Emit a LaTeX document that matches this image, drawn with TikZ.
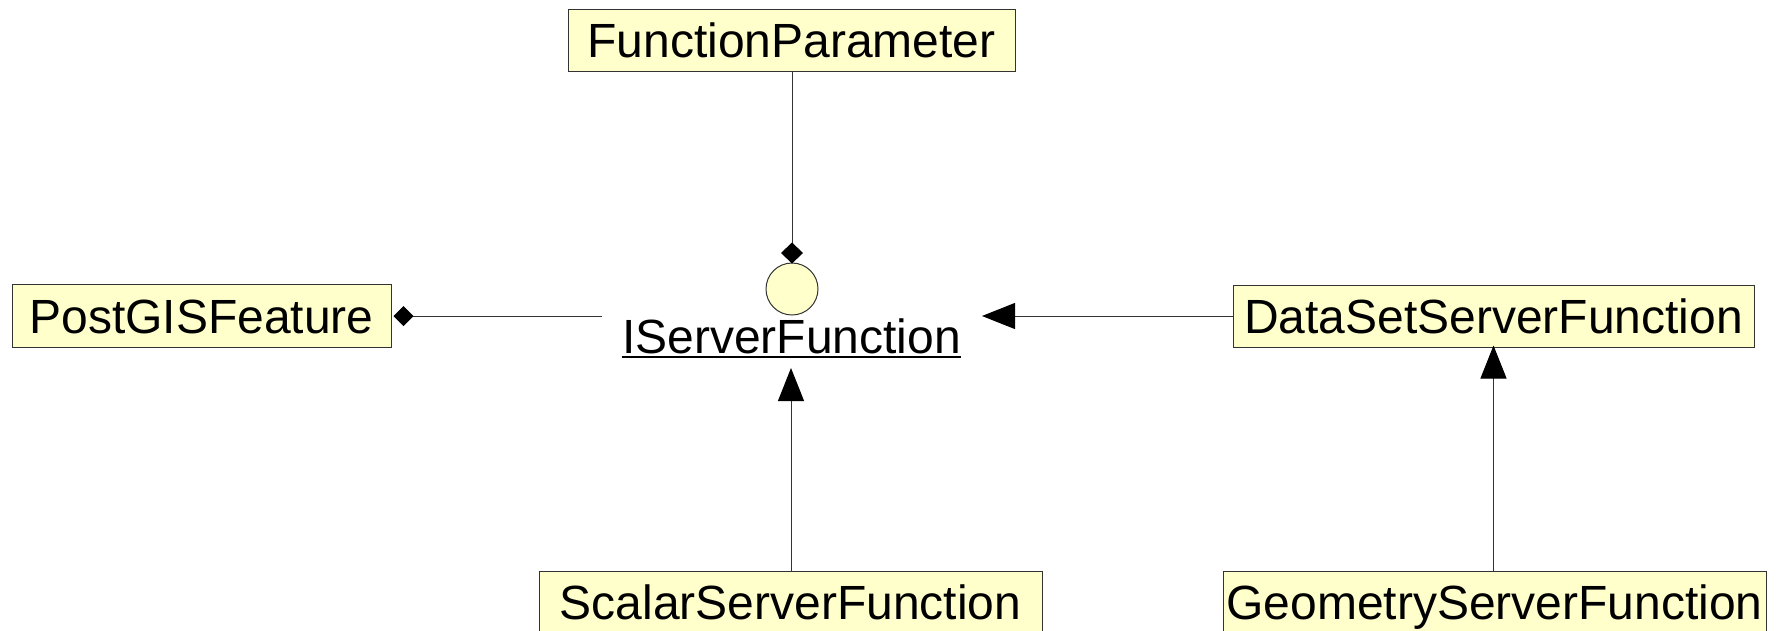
\documentclass[tikz,border=0pt]{standalone}
\usepackage{fontspec}
\setmainfont{Liberation Sans}
\usetikzlibrary{arrows.meta}
\definecolor{boxfill}{HTML}{FFFFCC}
\definecolor{edge}{HTML}{333333}
\tikzset{
  cls/.style={draw=edge, line width=1pt, fill=boxfill, inner sep=0pt,
    text height=34pt, text depth=0pt, font=\fontsize{48}{51}\selectfont},
  conn/.style={draw=black!80, line width=1pt},
  gen/.style={conn, -{Triangle[length=33pt,width=26pt,color=black]}},
  comp/.style={conn, {Diamond[length=20pt,width=20pt,color=black]}-},
  compend/.style={conn, -{Diamond[length=21pt,width=22pt,color=black]}}
}
\begin{document}
\begin{tikzpicture}[x=1pt,y=-1pt]
\useasboundingbox (0,0) rectangle (1778,630);
\node[cls, minimum width=447pt, minimum height=62pt] (fp) at (791.5,40) {FunctionParameter};
\node[cls, minimum width=379pt, minimum height=63pt] (pgf) at (201.5,316) {PostGISFeature};
\node[cls, minimum width=521pt, minimum height=62pt] (dssf) at (1493.5,316) {DataSetServerFunction};
\node[cls, minimum width=503pt, minimum height=63pt] (ssf) at (790.5,602.5) {ScalarServerFunction};
\node[cls, minimum width=543pt, minimum height=63pt] (gsf) at (1494.5,602.5) {GeometryServerFunction};
% interface
\node[draw=edge, line width=1pt, fill=boxfill, circle, minimum size=52pt, inner sep=0pt] (lolli) at (792,289) {};
\node[inner sep=0pt, text height=35pt, text depth=0pt, font=\fontsize{48}{51}\selectfont] (isf) at (791.5,335.5) {IServerFunction};
\draw[line width=2pt] ([yshift=-4pt]isf.south west) -- ([yshift=-4pt]isf.south east);
\coordinate (lend) at (602,316);
\coordinate (rtip) at (982,316);
\coordinate (utip) at (791,368);
% connectors
\draw[compend] (fp.south -| lolli.north) -- ([yshift=-1pt]lolli.north);
\draw[comp] ([xshift=2pt]pgf.east) -- (lend);
\draw[gen] (dssf.west) -- (rtip);
\draw[gen] (ssf.north -| utip) -- (utip);
\draw[gen] (gsf.north -| dssf.south) -- ([yshift=2pt]dssf.south);
\end{tikzpicture}
\end{document}
